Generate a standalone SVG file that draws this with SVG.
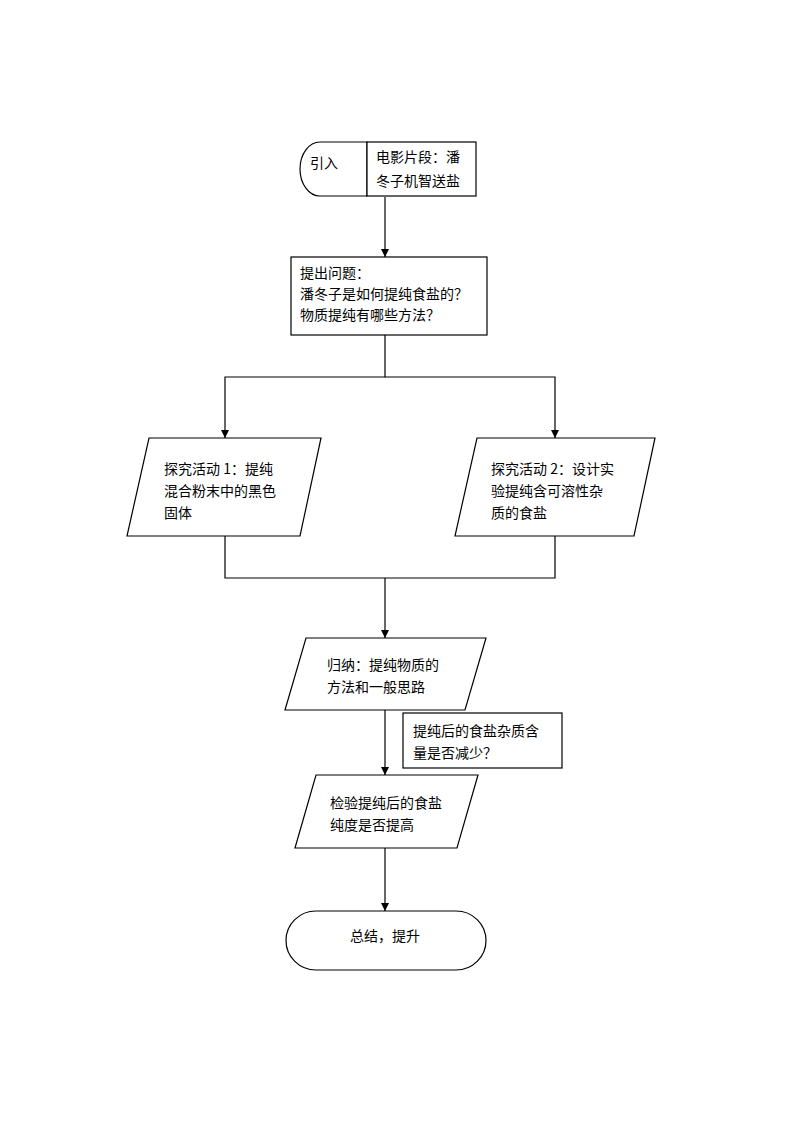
<svg xmlns="http://www.w3.org/2000/svg" width="794" height="1123" viewBox="0 0 794 1123">
<style>
.s{fill:#fff;stroke:#000;stroke-width:1.2}
.c{fill:none;stroke:#000;stroke-width:1.2}
text{font-family:"Noto Sans CJK SC","Liberation Sans",sans-serif;font-size:14px;fill:#000}
</style>
<defs>
<marker id="ah" viewBox="0 0 10 10" refX="10" refY="5" markerWidth="8" markerHeight="8" markerUnits="userSpaceOnUse" orient="auto">
<path d="M0,0 L10,5 L0,10 z" fill="#000"/>
</marker>
</defs>
<rect width="794" height="1123" fill="#fff"/>
<g id="connectors">
<path class="c" d="M385,197 V257" marker-end="url(#ah)"/>
<path class="c" d="M385,335 V377 H225 V438" marker-end="url(#ah)"/>
<path class="c" d="M385,377 H555 V438" marker-end="url(#ah)"/>
<path class="c" d="M225,536 V578 H555 V536"/>
<path class="c" d="M385,578 V638" marker-end="url(#ah)"/>
<path class="c" d="M385,710 V775" marker-end="url(#ah)"/>
<path class="c" d="M385,848 V911" marker-end="url(#ah)"/>
</g>
<g id="n-intro">
<path class="s" d="M320,142 H367 V196 H320 A20,27 0 0 1 320,142 Z"/>
<rect class="s" x="367" y="142" width="109" height="54"/>
<text x="310" y="168">引入</text>
<text x="376" y="162">电影片段：潘</text>
<text x="376" y="186">冬子机智送盐</text>
</g>
<g id="n-question">
<rect class="s" x="291" y="257" width="196" height="78"/>
<text x="300" y="278">提出问题：</text>
<text x="300" y="299">潘冬子是如何提纯食盐的？</text>
<text x="300" y="320">物质提纯有哪些方法？</text>
</g>
<g id="n-act1">
<polygon class="s" points="149,438 321,438 300,536 127,536"/>
<text x="164" y="474">探究活动 1：提纯</text>
<text x="164" y="496">混合粉末中的黑色</text>
<text x="164" y="518">固体</text>
</g>
<g id="n-act2">
<polygon class="s" points="477,438 655,438 634,536 455,536"/>
<text x="491" y="474">探究活动 2：设计实</text>
<text x="491" y="496">验提纯含可溶性杂</text>
<text x="491" y="518">质的食盐</text>
</g>
<g id="n-summary">
<polygon class="s" points="306,638 486,638 465,710 285,710"/>
<text x="327" y="670">归纳：提纯物质的</text>
<text x="327" y="692">方法和一般思路</text>
</g>
<g id="n-note">
<rect class="s" x="403" y="713" width="159" height="55"/>
<text x="413" y="736">提纯后的食盐杂质含</text>
<text x="413" y="758">量是否减少？</text>
</g>
<g id="n-check">
<polygon class="s" points="316,775 478,775 457,848 295,848"/>
<text x="330" y="808">检验提纯后的食盐</text>
<text x="330" y="830">纯度是否提高</text>
</g>
<g id="n-end">
<rect class="s" x="286" y="911" width="200" height="59" rx="30" ry="29.5"/>
<text x="385" y="941" text-anchor="middle">总结，提升</text>
</g>
</svg>
